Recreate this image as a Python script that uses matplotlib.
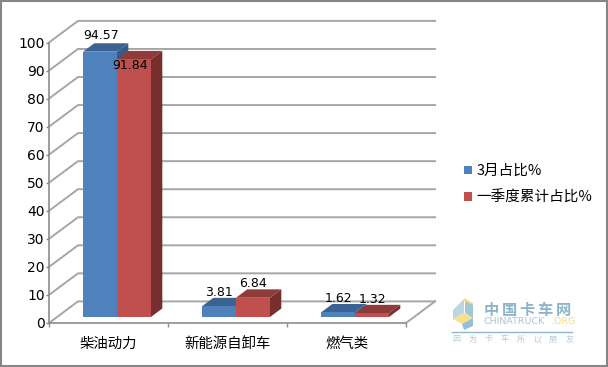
import matplotlib
matplotlib.use("Agg")
import matplotlib.pyplot as plt
from matplotlib.patches import Polygon, Rectangle, Patch
from matplotlib.lines import Line2D

plt.rcParams['font.family'] = ['Noto Sans CJK SC', 'DejaVu Sans']

categories = ["柴油动力", "新能源自卸车", "燃气类"]
series_names = ["3月占比%", "一季度累计占比%"]
march = [94.57, 3.81, 1.62]
quarter = [91.84, 6.84, 1.32]
y_ticks = [0, 10, 20, 30, 40, 50, 60, 70, 80, 90, 100]

W, H = 608, 367
BLUE = ("#4F81BD", "#3B6392", "#375B87")
RED = ("#C0504D", "#8F3B39", "#772F2D")
GRID = "#A6A6A6"

# depth of the fake 3D box, in data units
DX = 29 / 119
DY = 7.7
BAR_W = 34 / 119
GAP = 34 / 119
D0, D1 = 0.28, 0.67

fig = plt.figure(figsize=(W / 100, H / 100), dpi=100)
ax = fig.add_axes([49 / W, 1 - 323 / H, 357 / W, 280.5 / H])
ax.set_xlim(0, 3)
ax.set_ylim(0, 100)
ax.patch.set_visible(False)

# outer frame
fig.add_artist(Rectangle((1 / W, 1 / H), 605.5 / W, 365 / H, transform=fig.transFigure,
                         fill=False, ec="#868686", lw=1.5))


def wall_line(xs, ys):
    ax.add_line(Line2D(xs, ys, color=GRID, lw=1.4, clip_on=False, zorder=1))


# grid on the walls
for v in y_ticks:
    wall_line([0, DX, 3 + DX], [v, v + DY, v + DY])
wall_line([3, 3 + DX], [0, DY])


def draw_bar(x, v, cols):
    x0 = x + D0 * DX
    x1 = x0 + BAR_W
    y0 = D0 * DY
    y1 = y0 + v
    ox = (D1 - D0) * DX
    oy = (D1 - D0) * DY
    ax.add_patch(Polygon([(x0, y1), (x1, y1), (x1 + ox, y1 + oy), (x0 + ox, y1 + oy)],
                         fc=cols[1], ec="none", clip_on=False, zorder=3))
    ax.add_patch(Polygon([(x1, y0), (x1 + ox, y0 + oy), (x1 + ox, y1 + oy), (x1, y1)],
                         fc=cols[2], ec="none", clip_on=False, zorder=3))
    ax.add_patch(Polygon([(x0, y0), (x1, y0), (x1, y1), (x0, y1)],
                         fc=cols[0], ec="none", clip_on=False, zorder=3))


label_shift = [[(1, 16), (0, 14), (0, 14)], [(-4, -6), (0, 14), (0, 14)]]

for i in range(len(categories)):
    for j, (vals, cols) in enumerate(((march, BLUE), (quarter, RED))):
        x = i + GAP + j * BAR_W - D0 * DX
        draw_bar(x, vals[i], cols)
        ax.annotate(f"{vals[i]:.2f}", (x + D0 * DX + BAR_W / 2, D0 * DY + vals[i]),
                    xytext=label_shift[j][i], textcoords="offset pixels",
                    ha="center", va="center", fontsize=9, color="black", zorder=5,
                    family="DejaVu Sans", annotation_clip=False)

# axes, ticks
for s in ("top", "right"):
    ax.spines[s].set_visible(False)
for s in ("left", "bottom"):
    ax.spines[s].set_color("#8C8C8C")
    ax.spines[s].set_linewidth(1.2)
    ax.spines[s].set_zorder(2)
ax.set_yticks(y_ticks)
ax.set_xticks(range(4))
ax.set_xticklabels([])
ax.set_xticks([0.5, 1.5, 2.5], categories, minor=True)
ax.tick_params(axis="x", which="major", direction="out", length=3, color="#8C8C8C", width=1)
ax.tick_params(axis="x", which="minor", length=0, pad=10, labelsize=10.4)
ax.tick_params(axis="y", direction="out", length=2, color="#8C8C8C", width=1, pad=1, labelsize=10)
for t in ax.get_yticklabels():
    t.set_family("DejaVu Sans")

handles = [Patch(fc=BLUE[0], label=series_names[0]), Patch(fc=RED[0], label=series_names[1])]
fig.legend(handles=handles, loc="upper left", bbox_to_anchor=(462 / W, 1 - 162 / H), frameon=False,
           fontsize=10.5, handlelength=0.55, handleheight=0.55, handletextpad=0.28,
           labelspacing=0.82, borderpad=0.15, borderaxespad=0)


# watermark
def px(x, y):
    return x / W, 1 - y / H


logo = [
    ([(453, 310), (464, 299), (464, 313), (453, 319)], "#BDD5E2"),
    ([(453, 319), (464, 313), (473, 318), (462, 324)], "#F9E08A"),
    ([(464, 298), (473, 303), (473, 305), (464, 301)], "#F3DC8A"),
    ([(465, 301), (473, 305), (473, 318), (465, 313)], "#A3C7D9"),
    ([(462, 324), (473, 318), (473, 326), (464, 330)], "#95BFD4"),
]
for pts, col in logo:
    fig.add_artist(Polygon([px(*p) for p in pts], transform=fig.transFigure, fc=col, ec="none"))
for k, ch in enumerate("中国卡车网"):
    fig.text(*px(491 + k * 18, 310), ch, fontsize=11, color="#8DB4C8", va="center", ha="center", fontweight="bold")
fig.text(*px(484, 322), "CHINATRUCK.ORG"[:10], fontsize=6.8, color="#A9C6D6", va="center", ha="left", family="DejaVu Sans")
fig.text(*px(551, 322), ".ORG", fontsize=6.8, color="#F5D98B", va="center", ha="left", family="DejaVu Sans")
fig.add_artist(Line2D([452 / W, 572 / W], [1 - 332 / H] * 2, color="#8DB8CC", lw=1))
for k, ch in enumerate("因为卡车所以朋友"):
    fig.text(*px(456 + k * 16.2, 339), ch, fontsize=5.8, color="#B5CBD6", va="center", ha="center")

fig.savefig("out.png", dpi=100)
